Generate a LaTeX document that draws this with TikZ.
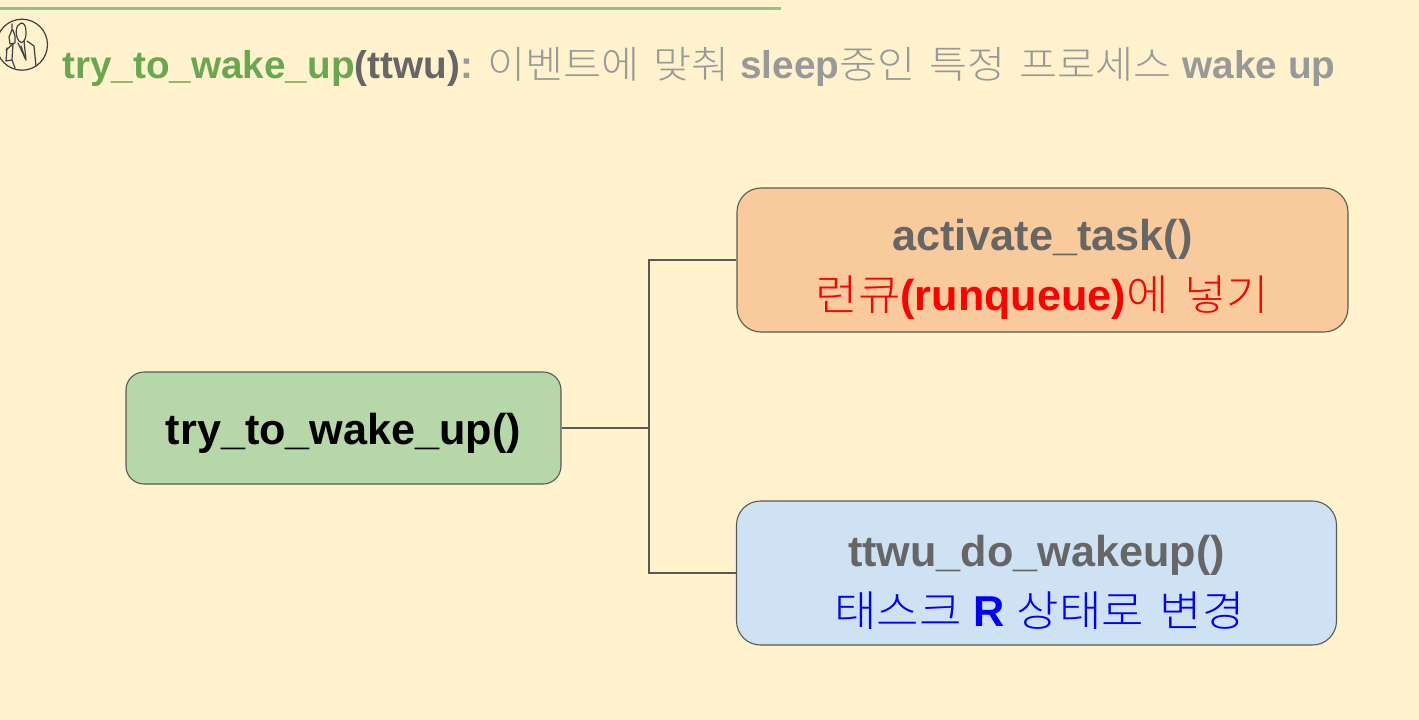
\documentclass[tikz,border=0pt]{standalone}
\usepackage{fontspec}
\setmainfont{Liberation Sans}
\newfontfamily\krfont{Noto Sans CJK KR Light}[Scale=0.98,FakeStretch=1.09,WordSpace=1.55]
\newcommand{\kr}[1]{{\mdseries\krfont #1}}
\definecolor{bgc}{HTML}{FFF2CC}
\definecolor{rulec}{HTML}{93C47D}
\definecolor{grn}{HTML}{6AA84F}
\definecolor{dgray}{HTML}{666666}
\definecolor{lgray}{HTML}{999999}
\definecolor{boxgreen}{HTML}{B6D7A8}
\definecolor{boxorange}{HTML}{F9CB9C}
\definecolor{boxblue}{HTML}{CFE2F3}
\definecolor{edgec}{HTML}{595959}
\tikzset{
  px/.style={x=1pt,y=-1pt},
  box/.style={draw=edgec,line width=1.1pt,rounded corners=18pt,inner sep=0pt,align=center,font=\bfseries\fontsize{43.2}{60}\selectfont},
  tallbox/.style={box,rounded corners=24pt,minimum height=144pt},
  conn/.style={draw=edgec,line width=1.1pt},
  icon/.style={draw=black!75,line width=1.2pt,line cap=round,line join=round}
}
\begin{document}
\begin{tikzpicture}[px]
\useasboundingbox[fill=bgc] (0,0) rectangle (1419,720);
\coordinate (ra) at (0,8.5); \coordinate (rb) at (781,8.5);
\draw[rulec,line width=3pt] (ra) -- (rb);
% icon
\begin{scope}
\clip (0,0) rectangle (60,80);
\draw[icon] (22,44.7) circle (25.5);
\draw[icon] (21,23) .. controls (15,25) and (15,36) .. (19,41) .. controls (22,45) and (26,41) .. (26,33) .. controls (26,27) and (25,23) .. (21,23);
\draw[icon] (12,24) -- (12,30) -- (9,37) -- (10,44) -- (15,43) -- (15,36) -- (13,30);
\draw[icon] (6,50) -- (13,44) -- (12,60) -- (15,68);
\draw[icon] (18,43) -- (26,60) -- (24,41);
\draw[icon] (27,41) -- (34,46) -- (36,66);
\draw[icon] (7,48) -- (6,61) -- (12,60);
\draw[icon] (21,46) -- (25,58);
\end{scope}
\node[anchor=base west,inner sep=0pt,font=\bfseries\fontsize{38.7}{44}\selectfont] (title) at (62,78)
  {\textcolor{grn}{try\_to\_wake\_up}\textcolor{dgray}{(ttwu)}\textcolor{lgray}{: \kr{이벤트에 맞춰} sleep\kr{중인 특정 프로세스} wake up}};
\node[box,fill=boxgreen,minimum width=435pt,minimum height=112pt] (root) at (343.5,428) {\rule{0pt}{42pt}try\_to\_wake\_up()};
\node[tallbox,fill=boxorange,minimum width=611pt] (act) at (1042.5,260)
  {\rule{0pt}{50pt}\textcolor{dgray}{activate\_task()}\\\textcolor{red}{\kr{런큐}(runqueue)\kr{에 넣기}}};
\node[tallbox,fill=boxblue,minimum width=600pt] (ttwu) at (1036.5,573)
  {\rule{0pt}{50pt}\textcolor{dgray}{ttwu\_do\_wakeup()}\\\hspace*{6pt}\textcolor{blue}{\kr{태스크} R \kr{상태로 변경}}};
\draw[conn] (root.east) -- (649,428) |- (act.west);
\draw[conn] (649,428) |- (ttwu.west);
\end{tikzpicture}
\end{document}
